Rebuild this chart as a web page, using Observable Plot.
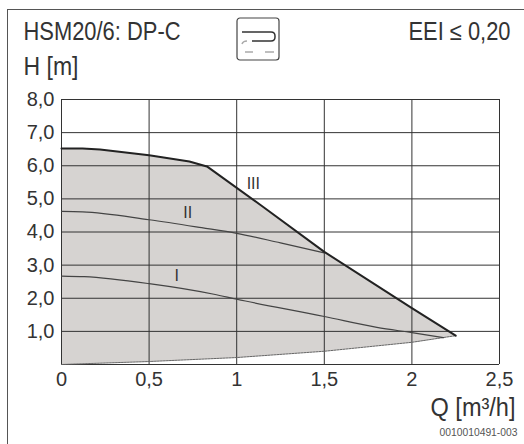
<!DOCTYPE html>
<html><head><meta charset="utf-8">
<script src="https://cdn.jsdelivr.net/npm/d3@7"></script>
<script src="https://cdn.jsdelivr.net/npm/@observablehq/plot@0.6"></script>
<style>
html,body{margin:0;padding:0;background:#fff;overflow:hidden}
#chart{position:relative;width:524px;height:444px}
#frameH{position:absolute;left:7px;top:9px;width:517px;height:1px;background:#555}
#frameV{position:absolute;left:7px;top:9px;width:1px;height:435px;background:#555}
#icon{position:absolute;left:236px;top:17px}
svg{display:block}
</style></head><body>
<div id="chart"><div id="frameH"></div><div id="frameV"></div></div>
<script>
const xTicks = [0, 0.5, 1, 1.5, 2, 2.5];
const yTicks = [1, 2, 3, 4, 5, 6, 7, 8];
const qIII = [0, 0.12, 0.22, 0.5, 0.73, 0.83, 1.14, 1.5, 2, 2.25];
const hIII = [6.52, 6.52, 6.49, 6.32, 6.13, 5.98, 4.8, 3.4, 1.7, 0.87];
const qII = [0, 0.12, 0.5, 0.8, 1, 1.25, 1.5];
const hII = [4.62, 4.61, 4.37, 4.13, 3.96, 3.67, 3.37];
const qI = [0, 0.13, 0.5, 0.87, 1, 1.5, 1.8, 2, 2.18];
const hI = [2.67, 2.65, 2.44, 2.12, 1.97, 1.45, 1.12, 0.96, 0.81];
const qLow = [0, 0.5, 1, 1.5, 2, 2.25];
const hLow = [0, 0.09, 0.21, 0.4, 0.67, 0.87];
const curveLabels = ["I", "II", "III"];
const labelQ = [0.657, 0.72, 1.095];
const labelH = [2.67, 4.57, 5.44];

const FONT = "'Liberation Sans',sans-serif";
const INK = "#333";
const pts = (q, h) => q.map((v, i) => ({q: v, h: h[i]}));
const outline = pts(qIII, hIII).concat(pts(qLow, hLow).reverse());
const labels = curveLabels.map((t, i) => ({t, q: labelQ[i], h: labelH[i]}));
const corner = (text, frameAnchor, dx, dy, fontSize, fill = INK) =>
  Plot.text([text], {frameAnchor, dx, dy, fontSize, fill, stroke: null, fontFamily: FONT});

const plot = Plot.plot({
  width: 524, height: 444,
  marginLeft: 61, marginRight: 25, marginTop: 99, marginBottom: 80,
  style: {background: "transparent", fontFamily: FONT, overflow: "visible"},
  x: {domain: [0, 2.5]},
  y: {domain: [0, 8]},
  marks: [
    Plot.line(outline, {x: "q", y: "h", fill: "#d6d3d1", stroke: null}),
    Plot.ruleX(xTicks, {stroke: "#333", strokeWidth: 1}),
    Plot.ruleY([0, ...yTicks], {stroke: "#333", strokeWidth: 1}),
    Plot.line(pts(qLow, hLow), {x: "q", y: "h", stroke: "#666", strokeWidth: 1, strokeDasharray: "2,1"}),
    Plot.line(pts(qI, hI), {x: "q", y: "h", stroke: "#444", strokeWidth: 1.2, curve: "monotone-x"}),
    Plot.line(pts(qII, hII), {x: "q", y: "h", stroke: "#444", strokeWidth: 1.2, curve: "monotone-x"}),
    Plot.line(pts(qIII, hIII), {x: "q", y: "h", stroke: "#222", strokeWidth: 2}),
    Plot.text(labels, {x: "q", y: "h", text: "t", fontSize: 16, fill: INK, fontFamily: FONT}),
    Plot.axisX({ticks: xTicks, tickSize: 0, tickPadding: 7, fontSize: 20, color: INK, label: null,
      tickFormat: d => String(d).replace(".", ",")}),
    Plot.axisY({ticks: yTicks, tickSize: 0, tickPadding: 7, fontSize: 20, color: INK, label: null,
      tickFormat: d => d.toFixed(1).replace(".", ",")}),
    corner("HSM20/6: DP-C", "top-left", -38, -77, 25),
    corner("H [m]", "top-left", -38, -42, 25),
    corner("EEI ≤ 0,20", "top-right", 11, -77, 25),
    corner("Q [m³/h]", "bottom-right", 16, 51, 25),
    corner("0010010491-003", "bottom-right", 18, 71, 10.5, "#555")
  ]
});
// The reference type is condensed: narrow the corner captions to their measured widths.
const widths = {"HSM20/6: DP-C": 157, "H [m]": 55, "EEI ≤ 0,20": 102, "Q [m³/h]": 85, "0010010491-003": 78};
d3.select(plot).selectAll("text").each(function () {
  const w = widths[this.textContent];
  if (w) { this.setAttribute("textLength", w); this.setAttribute("lengthAdjust", "spacingAndGlyphs"); }
});
const chart = document.getElementById("chart");
chart.appendChild(plot);
chart.insertAdjacentHTML("beforeend",
 `<svg id="icon" width="45" height="45" viewBox="0 0 45 45" fill="none">
  <rect x="1" y="1" width="42" height="42" rx="3" stroke="#444" stroke-width="1.2"/>
  <path d="M6 15H35Q39 15 39 19V20Q39 24 35 24H16" stroke="#333" stroke-width="1.5"/>
  <path d="M6 27Q7 24 11 24" stroke="#aaa" stroke-width="1.5"/>
  <path d="M9 35H17M29 35H38" stroke="#aaa" stroke-width="1.5"/></svg>`);
</script>
</body></html>
